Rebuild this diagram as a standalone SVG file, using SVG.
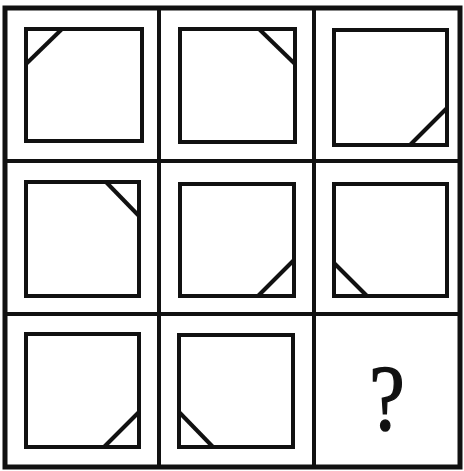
<svg xmlns="http://www.w3.org/2000/svg" width="464" height="471" viewBox="0 0 464 471">
<style>
.frame{fill:none;stroke:#111;stroke-width:5}
.grid{stroke:#111;stroke-width:4}
.sq{fill:none;stroke:#111;stroke-width:4}
.diag{stroke:#111;stroke-width:4}
.q{font-family:"Liberation Serif",serif;font-size:94px;fill:#111;stroke:#111;stroke-width:1.5}
</style>
<rect width="464" height="471" fill="#fff"/>
<g id="grid">
<rect class="frame" x="5" y="8" width="455" height="459"/>
<line class="grid" x1="159" y1="8" x2="159" y2="467"/>
<line class="grid" x1="314" y1="8" x2="314" y2="467"/>
<line class="grid" x1="5" y1="161" x2="460" y2="161"/>
<line class="grid" x1="5" y1="314" x2="460" y2="314"/>
</g>
<g id="cell1"><rect class="sq" x="26" y="29" width="116" height="112"/><line class="diag" x1="62" y1="29" x2="26" y2="64"/></g>
<g id="cell2"><rect class="sq" x="180" y="29" width="115" height="113"/><line class="diag" x1="259" y1="29" x2="295" y2="64"/></g>
<g id="cell3"><rect class="sq" x="334" y="30" width="113" height="115"/><line class="diag" x1="410" y1="145" x2="447" y2="108"/></g>
<g id="cell4"><rect class="sq" x="26" y="182" width="113" height="114"/><line class="diag" x1="106" y1="182" x2="139" y2="216"/></g>
<g id="cell5"><rect class="sq" x="180" y="184" width="114" height="112"/><line class="diag" x1="258" y1="296" x2="294" y2="260"/></g>
<g id="cell6"><rect class="sq" x="334" y="184" width="113" height="112"/><line class="diag" x1="334" y1="263" x2="367" y2="296"/></g>
<g id="cell7"><rect class="sq" x="26" y="334" width="113" height="113"/><line class="diag" x1="104" y1="447" x2="139" y2="412"/></g>
<g id="cell8"><rect class="sq" x="179" y="335" width="114" height="112"/><line class="diag" x1="179" y1="412" x2="213" y2="447"/></g>
<g id="cell9"><text class="q" transform="translate(387,429) scale(0.85,1)" text-anchor="middle">?</text></g>
</svg>
